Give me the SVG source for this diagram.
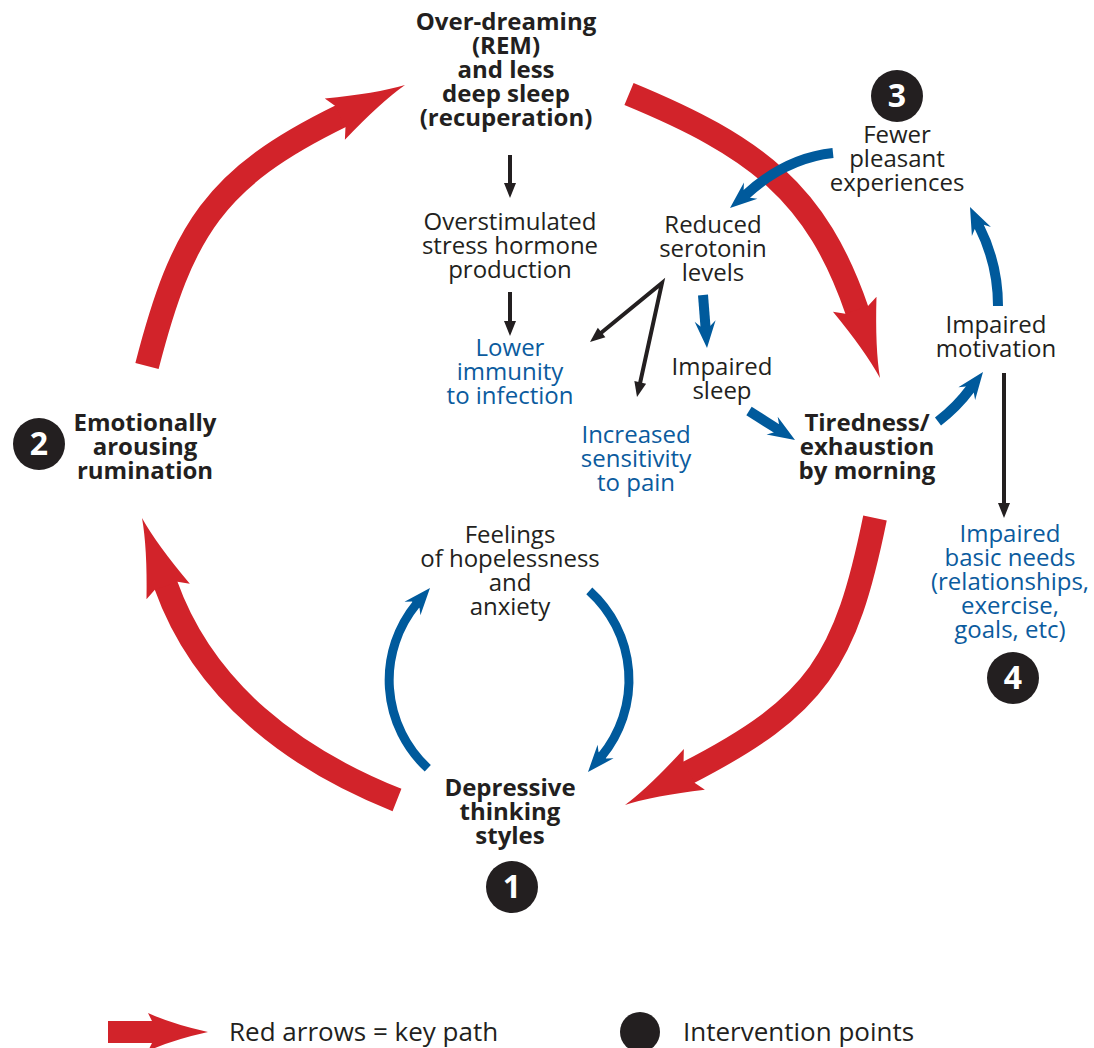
<svg xmlns="http://www.w3.org/2000/svg" xmlns:xlink="http://www.w3.org/1999/xlink" width="1094" height="1048" viewBox="0 0 1094 1048">
<style>
.t{font-family:"Open Sans","Liberation Sans",sans-serif;font-size:24px;fill:#231F20;text-anchor:middle}
.b{font-weight:700}
.bt{fill:#0B5B9E}
.num{font-family:"Open Sans","Liberation Sans",sans-serif;font-size:32px;font-weight:700;fill:#fff;text-anchor:middle}
.dot{fill:#231F20}
.red{fill:none;stroke:#D2232A;stroke-width:24}
.blu{fill:none;stroke:#005A9C;stroke-width:10}
.blu9{fill:none;stroke:#005A9C;stroke-width:9}
.blk{fill:none;stroke:#231F20;stroke-width:4;stroke-linejoin:miter;stroke-miterlimit:20}
.leg{font-family:"Open Sans","Liberation Sans",sans-serif;font-size:26px;fill:#231F20}
</style>
<defs>
<path id="rh" d="M0,0 Q-30,-5 -78,-23 L-72,-12 L-72,12 L-78,23 Q-30,5 0,0 Z" fill="#D2232A"/>
<path id="bh" d="M0,0 L-27,-10.5 L-22,-5 L-22,5 L-27,10.5 Z" fill="#005A9C"/>
<path id="kh" d="M0,0 L-15,-6 L-15,6 Z" fill="#231F20"/>
</defs>
<rect width="1094" height="1048" fill="#fff"/>

<g id="connectors">
  <!-- red key path -->
  <path class="red" d="M629,94 C756.5,146.7 816.5,192.7 857.1,310.8"/>
  <use href="#rh" transform="translate(880,378) rotate(71.1)"/>
  <path class="red" d="M875,518 C845.8,661.1 817.5,705.9 688.1,772.6"/>
  <use href="#rh" transform="translate(625,805) rotate(152.8)"/>
  <path class="red" d="M397,800 C294,759 203.9,691.6 165.8,584.9"/>
  <use href="#rh" transform="translate(142,518) rotate(-109.6)"/>
  <path class="red" d="M147,366 C182.2,229.5 214.8,177.7 341.1,116"/>
  <use href="#rh" transform="translate(405,85) rotate(-25.9)"/>

  <!-- black arrows -->
  <path class="blk" d="M510,155 L510,185"/>
  <use href="#kh" transform="translate(510,198) rotate(90)"/>
  <path class="blk" d="M510,292 L510,323"/>
  <use href="#kh" transform="translate(510,336) rotate(90)"/>
  <path class="blk" d="M600,333.8 L662,283 L639.8,384.3"/>
  <use href="#kh" transform="translate(590,342) rotate(140.7)"/>
  <use href="#kh" transform="translate(637,397) rotate(102.4)"/>
  <path class="blk" d="M1004,373 L1004,505"/>
  <use href="#kh" transform="translate(1004,518) rotate(90)"/>

  <!-- blue arrows -->
  <path class="blu9" d="M427.8,768.3 A120,120 0 0 1 416.4,604"/>
  <use href="#bh" transform="translate(430,588) rotate(-49.5)"/>
  <path class="blu9" d="M589.3,590.8 A120,120 0 0 1 601.7,756.1"/>
  <use href="#bh" transform="translate(588,772) rotate(130.6)"/>
  <path class="blu" d="M833,153 Q786,158 746.1,194.5"/>
  <use href="#bh" transform="translate(730,208) rotate(140)"/>
  <path class="blu" d="M703,295 L705.5,327"/>
  <use href="#bh" transform="translate(707,348) rotate(86)"/>
  <path class="blu" d="M749,411 L777.2,428.9"/>
  <use href="#bh" transform="translate(795,440) rotate(32)"/>
  <path class="blu" d="M938,421.5 Q957,407 970.4,388.8"/>
  <use href="#bh" transform="translate(983,372) rotate(-53)"/>
  <path class="blu" d="M998,306 C998,275 990,248 978.9,226"/>
  <use href="#bh" transform="translate(970,207) rotate(-115)"/>
</g>

<g id="n-overdreaming">
  <text class="t b"><tspan x="506" y="30">Over-dreaming</tspan><tspan x="506" y="54">(REM)</tspan><tspan x="506" y="78">and less</tspan><tspan x="506" y="102">deep sleep</tspan><tspan x="506" y="126">(recuperation)</tspan></text>
</g>
<g id="n-stress">
  <text class="t"><tspan x="510" y="230">Overstimulated</tspan><tspan x="510" y="254">stress hormone</tspan><tspan x="510" y="278">production</tspan></text>
</g>
<g id="n-immunity">
  <text class="t bt"><tspan x="510" y="356">Lower</tspan><tspan x="510" y="380">immunity</tspan><tspan x="510" y="404">to infection</tspan></text>
</g>
<g id="n-serotonin">
  <text class="t"><tspan x="713" y="233">Reduced</tspan><tspan x="713" y="257">serotonin</tspan><tspan x="713" y="281">levels</tspan></text>
</g>
<g id="n-sleep">
  <text class="t"><tspan x="722" y="375">Impaired</tspan><tspan x="722" y="399">sleep</tspan></text>
</g>
<g id="n-pain">
  <text class="t bt"><tspan x="636" y="443">Increased</tspan><tspan x="636" y="467">sensitivity</tspan><tspan x="636" y="491">to pain</tspan></text>
</g>
<g id="n-tiredness">
  <text class="t b"><tspan x="867" y="431">Tiredness/</tspan><tspan x="867" y="455">exhaustion</tspan><tspan x="867" y="479">by morning</tspan></text>
</g>
<g id="n-motivation">
  <text class="t"><tspan x="996" y="333">Impaired</tspan><tspan x="996" y="357">motivation</tspan></text>
</g>
<g id="n-fewer">
  <text class="t"><tspan x="897" y="143">Fewer</tspan><tspan x="897" y="167">pleasant</tspan><tspan x="897" y="191">experiences</tspan></text>
</g>
<g id="n-needs">
  <text class="t bt"><tspan x="1010" y="542">Impaired</tspan><tspan x="1010" y="566">basic needs</tspan><tspan x="1010" y="590">(relationships,</tspan><tspan x="1010" y="614">exercise,</tspan><tspan x="1010" y="638">goals, etc)</tspan></text>
</g>
<g id="n-rumination">
  <text class="t b"><tspan x="145" y="431">Emotionally</tspan><tspan x="145" y="455">arousing</tspan><tspan x="145" y="479">rumination</tspan></text>
</g>
<g id="n-feelings">
  <text class="t"><tspan x="510" y="543">Feelings</tspan><tspan x="510" y="567">of hopelessness</tspan><tspan x="510" y="591">and</tspan><tspan x="510" y="615">anxiety</tspan></text>
</g>
<g id="n-depressive">
  <text class="t b"><tspan x="510" y="796">Depressive</tspan><tspan x="510" y="820">thinking</tspan><tspan x="510" y="844">styles</tspan></text>
</g>

<g id="point-1"><circle class="dot" cx="512" cy="887" r="26"/><text class="num" x="512" y="898">1</text></g>
<g id="point-2"><circle class="dot" cx="39" cy="444" r="26"/><text class="num" x="39" y="455">2</text></g>
<g id="point-3"><circle class="dot" cx="897" cy="96" r="26"/><text class="num" x="897" y="107">3</text></g>
<g id="point-4"><circle class="dot" cx="1013" cy="678" r="26"/><text class="num" x="1013" y="689">4</text></g>

<g id="legend">
  <path d="M108,1021 L152,1021 L148,1013 Q172,1024 208,1032 Q172,1040 148,1051 L152,1043 L108,1043 Z" fill="#D2232A"/>
  <text class="leg" x="229" y="1041">Red arrows = key path</text>
  <circle class="dot" cx="640" cy="1032" r="20"/>
  <text class="leg" x="683" y="1041">Intervention points</text>
</g>
</svg>
